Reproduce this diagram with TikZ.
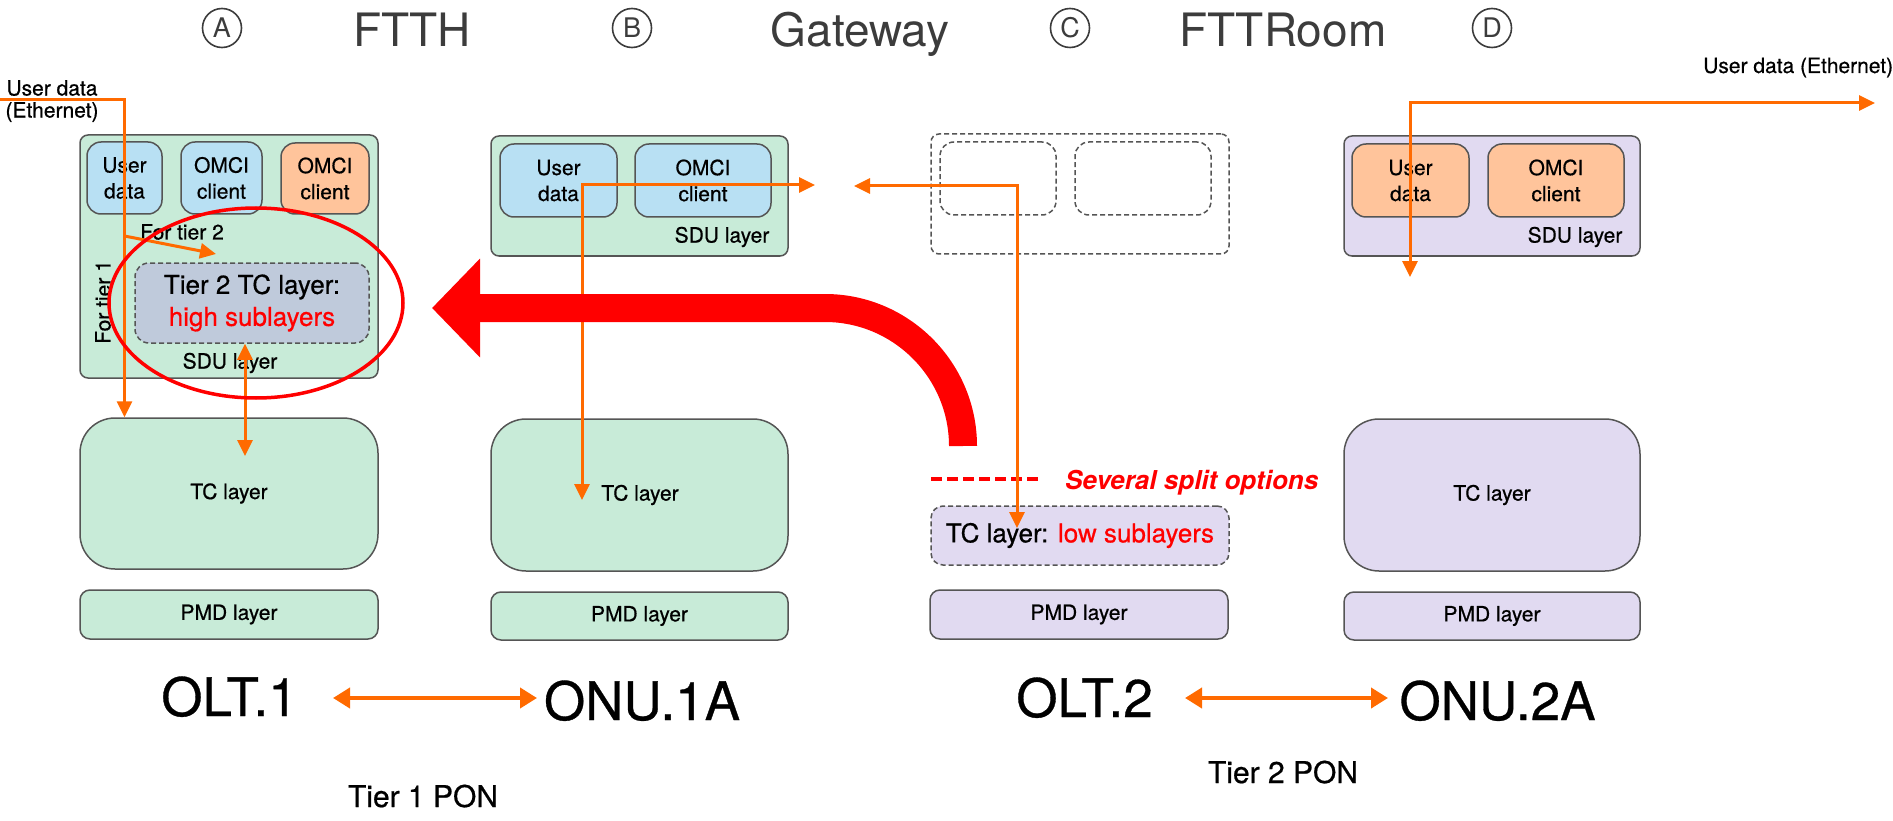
\documentclass[tikz,border=0pt]{standalone}
\usepackage{fontspec}
\setmainfont{TeX Gyre Heros}
\newfontfamily\medf[FakeBold=0.6]{TeX Gyre Heros}
\usetikzlibrary{arrows.meta,shapes.geometric,calc}
\definecolor{bord}{HTML}{555555}
\definecolor{gfill}{HTML}{C8EBD8}
\definecolor{bfill}{HTML}{B8E0F3}
\definecolor{pfill}{HTML}{FFC49B}
\definecolor{lfill}{HTML}{E1DAF1}
\definecolor{gbfill}{HTML}{BFCADB}
\definecolor{org}{HTML}{FF6A00}
\definecolor{ttl}{HTML}{3C3C3C}
\definecolor{rd}{HTML}{FF0000}
\newcommand\fsm{\medf\fontsize{21}{26}\selectfont}
\newcommand\fue{\medf\fontsize{21}{22}\selectfont}
\newcommand\fmd{\medf\fontsize{26}{32}\selectfont}
\newcommand\fbg{\medf\fontsize{53}{60}\selectfont}
\newcommand\fpon{\medf\fontsize{30}{36}\selectfont}
\newcommand\fttl{\fontsize{46}{52}\selectfont}
\newcommand\fcir{\fontsize{27}{30}\selectfont}
\begin{document}
\begin{tikzpicture}[x=1pt,y=-1pt,
  lay/.style={draw=bord, line width=1.5pt, inner sep=0pt, align=center, font=\fsm},
  dsh/.style={draw=bord, line width=1.5pt, inner sep=0pt, align=center, dash pattern=on 5pt off 3pt},
  lbl/.style={font=\fsm, inner sep=0pt},
  big/.style={font=\fbg, anchor=base, inner sep=0pt},
  ttlnode/.style={font=\fttl, text=ttl, anchor=base, inner sep=0pt},
  cir/.style={circle, draw=ttl, line width=1.6pt, minimum size=39pt, inner sep=0pt, font=\fcir, text=ttl},
  oa/.style={draw=org, line width=3pt, -{Triangle[length=16pt,width=15pt]}},
  oab/.style={draw=org, line width=3pt, {Triangle[length=16pt,width=15pt]}-{Triangle[length=16pt,width=15pt]}},
  ponarr/.style={draw=org, line width=4pt, {Triangle[length=17pt,width=20pt]}-{Triangle[length=17pt,width=20pt]}}
]
\useasboundingbox (0,0) rectangle (1893,821);

% titles
\node[cir] (ca) at (222,28) {A};
\node[ttlnode] (ftth) at (412,47) {FTTH};
\node[cir] (cb) at (632,28) {B};
\node[ttlnode] (gw) at (860,47) {Gateway};
\node[cir] (cc) at (1070,28) {C};
\node[ttlnode] (fttr) at (1283,47) {FTTRoom};
\node[cir] (cd) at (1492,28) {D};

% OLT.1
\node[lay, fill=gfill, rounded corners=8pt, minimum width=298pt, minimum height=243pt] (sdu1) at (229,256.5) {};
\node[lay, fill=bfill, rounded corners=14pt, minimum width=75pt, minimum height=72pt] (ud1) at (124.5,178) {User\\data};
\node[lay, fill=bfill, rounded corners=14pt, minimum width=81pt, minimum height=72pt] (om1) at (221.5,178) {OMCI\\client};
\node[lay, fill=pfill, rounded corners=14pt, minimum width=88pt, minimum height=71pt] (om1b) at (325,178.5) {OMCI\\client};
\node[dsh, fill=gbfill, rounded corners=14pt, minimum width=234pt, minimum height=80pt, font=\fmd] (t2tc) at (252,303) {Tier 2 TC layer:\\\textcolor{rd}{high sublayers}};
\node[lbl] (sdul1) at (230,363) {SDU layer};
\node[lbl] (ft2) at (182,232) {For tier 2};
\node[lbl, rotate=90] (ft1) at (103,302) {For tier 1};
\node[lay, fill=gfill, rounded corners=35pt, minimum width=298pt, minimum height=151pt] (tc1) at (229,493.5) {TC layer};
\node[lay, fill=gfill, rounded corners=10pt, minimum width=298pt, minimum height=49pt] (pmd1) at (229,614.5) {PMD layer};

% ONU.1A
\node[lay, fill=gfill, rounded corners=8pt, minimum width=297pt, minimum height=120pt] (sdu2) at (639.5,196) {};
\node[lay, fill=bfill, rounded corners=14pt, minimum width=117pt, minimum height=73pt] (ud2) at (558.5,180.5) {User\\data};
\node[lay, fill=bfill, rounded corners=14pt, minimum width=136pt, minimum height=73pt] (om2) at (703,180.5) {OMCI\\client};
\node[lbl] (sdul2) at (722,237) {SDU layer};
\node[lay, fill=gfill, rounded corners=35pt, minimum width=297pt, minimum height=152pt] (tc2) at (639.5,495) {};
\node[lbl] (tcl2) at (640,495) {TC layer};
\node[lay, fill=gfill, rounded corners=10pt, minimum width=297pt, minimum height=48pt] (pmd2) at (639.5,616) {PMD layer};

% OLT.2
\node[dsh, rounded corners=8pt, minimum width=298pt, minimum height=120pt] (sdu3) at (1080,194) {};
\node[dsh, rounded corners=14pt, minimum width=116pt, minimum height=73pt] (d1) at (998,178.5) {};
\node[dsh, rounded corners=14pt, minimum width=136pt, minimum height=73pt] (d2) at (1143,178.5) {};
\node[dsh, fill=lfill, rounded corners=12pt, minimum width=298pt, minimum height=59pt, font=\fmd] (tc3) at (1080,535.5) {TC layer: \textcolor{rd}{low sublayers}};
\node[lay, fill=lfill, rounded corners=10pt, minimum width=298pt, minimum height=49pt] (pmd3) at (1079,614.5) {PMD layer};

% ONU.2A
\node[lay, fill=lfill, rounded corners=8pt, minimum width=296pt, minimum height=120pt] (sdu4) at (1492,196) {};
\node[lay, fill=pfill, rounded corners=14pt, minimum width=117pt, minimum height=73pt] (ud4) at (1410.5,180.5) {User\\data};
\node[lay, fill=pfill, rounded corners=14pt, minimum width=136pt, minimum height=73pt] (om4) at (1556,180.5) {OMCI\\client};
\node[lbl] (sdul4) at (1575,237) {SDU layer};
\node[lay, fill=lfill, rounded corners=35pt, minimum width=296pt, minimum height=152pt] (tc4) at (1492,495) {TC layer};
\node[lay, fill=lfill, rounded corners=10pt, minimum width=296pt, minimum height=48pt] (pmd4) at (1492,616) {PMD layer};

% big labels
\node[big] (olt1) at (229.5,716) {OLT.1};
\node[big] (onu1a) at (642,720) {ONU.1A};
\node[big] (olt2) at (1084.5,717) {OLT.2};
\node[big] (onu2a) at (1497.5,720) {ONU.2A};
\node[font=\fpon, anchor=base, inner sep=0pt] (pon1) at (423,807) {Tier 1 PON};
\node[font=\fpon, anchor=base, inner sep=0pt] (pon2) at (1283,783) {Tier 2 PON};

% user data labels
\node[font=\fue, align=center, anchor=north, inner sep=0pt] (ue1) at (52,80) {User data\\(Ethernet)};
\node[font=\fsm, anchor=base west, inner sep=0pt] (ue2) at (1703,73) {User data (Ethernet)};

% split options
\node[font=\fontsize{26}{30}\selectfont\bfseries\itshape, text=rd, anchor=base west, inner sep=0pt] (split) at (1065,489) {Several split options};
\coordinate (sp1) at (931,479);
\coordinate (sp2) at (1039,479);
\draw[rd, line width=4pt, dash pattern=on 11pt off 5pt] (sp1) -- (sp2);

% orange connectors
\coordinate (in1) at (0,100);
\draw[oa] (in1) -| (ud1.center |- tc1.north);
\coordinate (ft2s) at (124.5,236);
\coordinate (ft2e) at (216,254);
\draw[oa] (ft2s) -- (ft2e);
\coordinate (v1e) at (245,456);
\draw[oab] (v1e |- t2tc.south) -- (v1e);
\coordinate (g1) at (815,185);
\coordinate (g2) at (582,500);
\draw[oab] (g1) -| (g2);
\coordinate (h1) at (854,186);
\coordinate (h2) at (1017,528);
\draw[oab] (h1) -| (h2);
\coordinate (k1) at (1875,103);
\coordinate (k2) at (1410,277);
\draw[oab] (k1) -| (k2);
\coordinate (a1s) at (333,698);
\coordinate (a1e) at (537,698);
\draw[ponarr] (a1s) -- (a1e);
\coordinate (a2s) at (1185,698);
\coordinate (a2e) at (1388,698);
\draw[ponarr] (a2s) -- (a2e);

% red highlight
\node[ellipse, draw=rd, line width=3.5pt, minimum width=294pt, minimum height=190pt, inner sep=0pt] (hl) at (256,303) {};
\coordinate (rs) at (963,446);
\coordinate (re) at (432,308);
\draw[rd, line width=28pt, -{Triangle[length=48pt,width=96pt]}] (rs) .. controls (963,370) and (901,308) .. (825,308) -- (re);
\end{tikzpicture}
\end{document}
